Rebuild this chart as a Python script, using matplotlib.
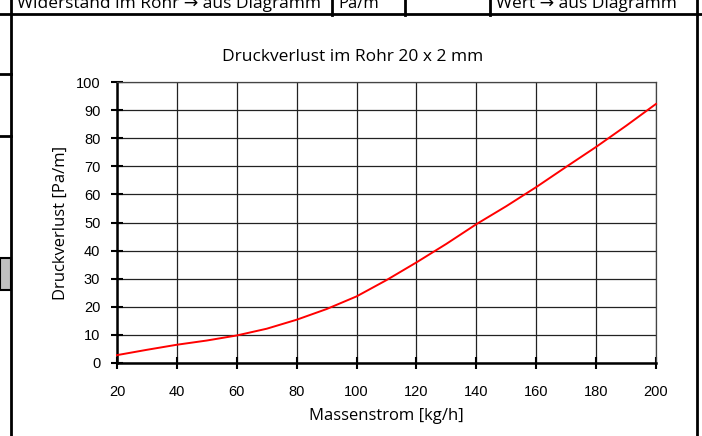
import matplotlib
matplotlib.use("Agg")
import matplotlib.pyplot as plt
from matplotlib.lines import Line2D
from matplotlib.patches import Rectangle

# data
massenstrom = [20, 30, 40, 50, 60, 70, 80, 90, 100, 110, 120, 130, 140, 150, 160, 170, 180, 190, 200]
druckverlust = [2.8, 4.7, 6.5, 8.0, 9.8, 12.2, 15.4, 19.2, 23.7, 29.5, 35.8, 42.4, 49.4, 55.8, 62.6, 69.8, 76.9, 84.4, 92.2]
x_ticks = list(range(20, 201, 20))
y_ticks = list(range(0, 101, 10))

W, H = 702, 436
ui_font = ["Open Sans", "DejaVu Sans"]
tick_font = "Liberation Sans"

fig = plt.figure(figsize=(W / 100, H / 100), dpi=100)
fig.patch.set_facecolor("white")


def fx(x):
    return x / W


def fy(y):
    return 1 - y / H


def hline(x0, x1, y, lw=2.0, color="black"):
    fig.add_artist(Line2D([fx(x0), fx(x1)], [fy(y), fy(y)], color=color, lw=lw,
                          transform=fig.transFigure))


def vline(x, y0, y1, lw=2.0, color="black"):
    fig.add_artist(Line2D([fx(x), fx(x)], [fy(y0), fy(y1)], color=color, lw=lw,
                          transform=fig.transFigure))


# spreadsheet cells around the chart
hline(0, W, 14)
vline(11, 0, H)
vline(697, 0, H)
vline(332, 0, 15)
vline(405, 0, 15)
vline(490, 0, 15)
hline(0, 11, 74)
hline(0, 11, 136)
fig.add_artist(Rectangle((0, fy(290)), fx(11), (290 - 258) / H, facecolor="#c0c0c0",
                         edgecolor="black", lw=1.5, transform=fig.transFigure))

fig.text(fx(17), fy(8), "Widerstand im Rohr \u2192 aus Diagramm", fontsize=12.5,
         family=ui_font, va="baseline", ha="left")
fig.text(fx(359), fy(8), "Pa/m", fontsize=12, family=ui_font, va="baseline", ha="center")
fig.text(fx(496), fy(8), "Wert \u2192 aus Diagramm", fontsize=12.5, family=ui_font,
         va="baseline", ha="left")

# chart title sits centred in the chart object, not over the plot area
fig.text(fx(353), fy(57), "Druckverlust im Rohr 20 x 2 mm", family=ui_font, fontsize=12.5,
         ha="center", va="center")

ax = fig.add_axes([fx(117), fy(363), fx(656) - fx(117), (363 - 82) / H])
ax.plot(massenstrom, druckverlust, color="#ff0000", lw=1.4, zorder=3, clip_on=False)

ax.set_xlim(20, 200)
ax.set_ylim(0, 100)
ax.set_xticks(x_ticks)
ax.set_yticks(y_ticks)
ax.grid(True, color="#222222", lw=0.9)
ax.set_axisbelow(True)

for s in ["top", "right"]:
    ax.spines[s].set_color("#444444")
    ax.spines[s].set_linewidth(0.9)
for s in ["left", "bottom"]:
    ax.spines[s].set_color("black")
    ax.spines[s].set_linewidth(1.8)

ax.tick_params(direction="inout", length=8, width=1.5, color="black")
ax.tick_params(axis="x", pad=12)
ax.tick_params(axis="y", pad=8)
for lab in ax.get_xticklabels() + ax.get_yticklabels():
    lab.set_family(tick_font)
    lab.set_fontsize(10.5)

ax.set_xlabel("Massenstrom [kg/h]", family=ui_font, fontsize=12, labelpad=6)
ax.set_ylabel("Druckverlust [Pa/m]", family=ui_font, fontsize=12, labelpad=5)

fig.savefig("out.png", dpi=100)
